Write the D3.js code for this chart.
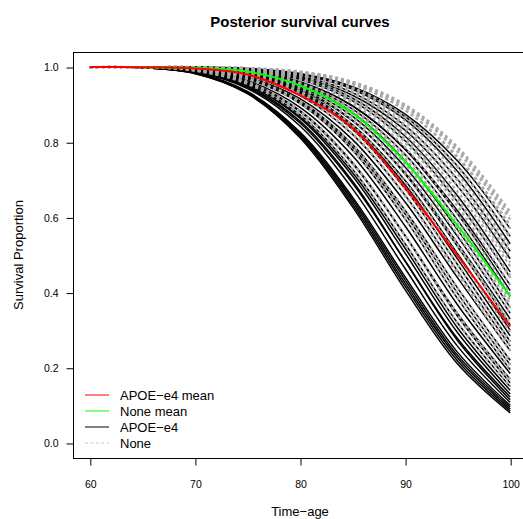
<!DOCTYPE html>
<html>
<head>
<meta charset="utf-8">
<script src="https://cdn.jsdelivr.net/npm/d3@7"></script>
<style>
  html, body { margin: 0; padding: 0; background: #fff; }
  svg { display: block; font-family: "Liberation Sans", Arial, Helvetica, sans-serif; }
</style>
</head>
<body>
<div id="chart"></div>
<script>
// ---- data ----
const ages = [60, 65, 70, 75, 80, 85, 90, 95, 100];

// posterior mean curves
const apoeMean = [1, 0.9997, 0.996, 0.980, 0.925, 0.838, 0.680, 0.498, 0.310];
const noneMean = [1, 0.9999, 0.998, 0.988, 0.951, 0.877, 0.748, 0.578, 0.390];

// posterior draws, APOE-e4 (solid black)
const apoeDraws = [
  [1, 0.9986, 0.983, 0.929, 0.812, 0.628, 0.408, 0.210, 0.080],
  [1, 0.9986, 0.983, 0.930, 0.816, 0.635, 0.417, 0.218, 0.085],
  [1, 0.9986, 0.984, 0.932, 0.820, 0.642, 0.425, 0.226, 0.090],
  [1, 0.9987, 0.984, 0.933, 0.824, 0.648, 0.434, 0.233, 0.095],
  [1, 0.9987, 0.985, 0.935, 0.827, 0.654, 0.442, 0.241, 0.100],
  [1, 0.9990, 0.987, 0.943, 0.843, 0.676, 0.464, 0.257, 0.108],
  [1, 0.9992, 0.989, 0.949, 0.856, 0.696, 0.484, 0.272, 0.115],
  [1, 0.9990, 0.988, 0.946, 0.851, 0.691, 0.484, 0.277, 0.122],
  [1, 0.9992, 0.990, 0.952, 0.864, 0.710, 0.505, 0.293, 0.130],
  [1, 0.9993, 0.990, 0.954, 0.868, 0.719, 0.518, 0.306, 0.140],
  [1, 0.9993, 0.990, 0.955, 0.873, 0.728, 0.530, 0.319, 0.150],
  [1, 0.9994, 0.992, 0.961, 0.884, 0.746, 0.551, 0.337, 0.160],
  [1, 0.9993, 0.991, 0.958, 0.881, 0.743, 0.552, 0.344, 0.170],
  [1, 0.9995, 0.992, 0.964, 0.893, 0.764, 0.577, 0.367, 0.185],
  [1, 0.9996, 0.994, 0.968, 0.903, 0.779, 0.596, 0.384, 0.195],
  [1, 0.9996, 0.994, 0.969, 0.907, 0.787, 0.609, 0.398, 0.208],
  [1, 0.9996, 0.994, 0.971, 0.910, 0.794, 0.619, 0.412, 0.220],
  [1, 0.9997, 0.995, 0.973, 0.916, 0.807, 0.641, 0.439, 0.245],
  [1, 0.9997, 0.995, 0.976, 0.924, 0.821, 0.659, 0.457, 0.258],
  [1, 0.9998, 0.996, 0.979, 0.931, 0.834, 0.676, 0.474, 0.270],
  [1, 0.9998, 0.996, 0.980, 0.934, 0.840, 0.687, 0.489, 0.285],
  [1, 0.9998, 0.996, 0.981, 0.937, 0.846, 0.698, 0.503, 0.300],
  [1, 0.9998, 0.997, 0.983, 0.943, 0.858, 0.715, 0.522, 0.315],
  [1, 0.9998, 0.997, 0.982, 0.941, 0.857, 0.718, 0.531, 0.330],
  [1, 0.9999, 0.997, 0.984, 0.947, 0.869, 0.734, 0.549, 0.345],
  [1, 0.9999, 0.998, 0.986, 0.953, 0.879, 0.750, 0.567, 0.360],
  [1, 0.9999, 0.998, 0.988, 0.956, 0.888, 0.767, 0.592, 0.390],
  [1, 0.9999, 0.998, 0.989, 0.961, 0.897, 0.781, 0.609, 0.405],
  [1, 0.9999, 0.998, 0.989, 0.960, 0.896, 0.783, 0.617, 0.420],
  [1, 1.0000, 0.999, 0.991, 0.967, 0.910, 0.804, 0.641, 0.440],
  [1, 1.0000, 0.999, 0.992, 0.970, 0.917, 0.816, 0.657, 0.455],
  [1, 1.0000, 0.999, 0.993, 0.973, 0.925, 0.832, 0.683, 0.490],
  [1, 1.0000, 0.999, 0.994, 0.976, 0.932, 0.844, 0.701, 0.510],
  [1, 1.0000, 0.999, 0.995, 0.980, 0.941, 0.860, 0.722, 0.530],
  [1, 1.0000, 0.999, 0.996, 0.981, 0.945, 0.868, 0.736, 0.550],
  [1, 1.0000, 1.000, 0.996, 0.983, 0.948, 0.875, 0.750, 0.570]
];

// posterior draws, None (grey dashed)
const noneDraws = [
  [1, 0.9993, 0.990, 0.955, 0.873, 0.728, 0.530, 0.319, 0.150],
  [1, 0.9994, 0.992, 0.961, 0.884, 0.746, 0.551, 0.337, 0.160],
  [1, 0.9993, 0.991, 0.958, 0.881, 0.743, 0.552, 0.344, 0.170],
  [1, 0.9996, 0.994, 0.968, 0.903, 0.779, 0.596, 0.384, 0.195],
  [1, 0.9996, 0.994, 0.969, 0.907, 0.787, 0.609, 0.398, 0.208],
  [1, 0.9996, 0.994, 0.971, 0.910, 0.794, 0.619, 0.412, 0.220],
  [1, 0.9998, 0.996, 0.977, 0.926, 0.823, 0.657, 0.448, 0.245],
  [1, 0.9997, 0.995, 0.976, 0.924, 0.821, 0.659, 0.457, 0.258],
  [1, 0.9998, 0.996, 0.979, 0.931, 0.834, 0.676, 0.474, 0.270],
  [1, 0.9998, 0.996, 0.980, 0.936, 0.844, 0.694, 0.498, 0.295],
  [1, 0.9998, 0.997, 0.983, 0.943, 0.858, 0.715, 0.522, 0.315],
  [1, 0.9999, 0.997, 0.985, 0.948, 0.866, 0.725, 0.531, 0.320],
  [1, 0.9999, 0.998, 0.986, 0.951, 0.874, 0.741, 0.554, 0.345],
  [1, 0.9999, 0.998, 0.988, 0.956, 0.884, 0.756, 0.571, 0.360],
  [1, 0.9999, 0.998, 0.987, 0.954, 0.882, 0.756, 0.576, 0.370],
  [1, 0.9999, 0.998, 0.988, 0.958, 0.890, 0.767, 0.588, 0.380],
  [1, 1.0000, 0.999, 0.991, 0.965, 0.903, 0.786, 0.609, 0.395],
  [1, 1.0000, 0.999, 0.991, 0.967, 0.909, 0.799, 0.629, 0.420],
  [1, 1.0000, 0.999, 0.991, 0.967, 0.910, 0.804, 0.641, 0.440],
  [1, 1.0000, 0.999, 0.992, 0.969, 0.915, 0.811, 0.649, 0.445],
  [1, 1.0000, 0.999, 0.993, 0.971, 0.920, 0.823, 0.668, 0.470],
  [1, 1.0000, 0.999, 0.994, 0.976, 0.929, 0.836, 0.683, 0.480],
  [1, 1.0000, 0.999, 0.995, 0.978, 0.935, 0.846, 0.697, 0.495],
  [1, 1.0000, 0.999, 0.994, 0.976, 0.932, 0.844, 0.701, 0.510],
  [1, 1.0000, 0.999, 0.995, 0.980, 0.940, 0.856, 0.715, 0.520],
  [1, 1.0000, 0.999, 0.996, 0.981, 0.944, 0.866, 0.733, 0.545],
  [1, 1.0000, 0.999, 0.996, 0.981, 0.945, 0.868, 0.736, 0.550],
  [1, 1.0000, 1.000, 0.997, 0.986, 0.955, 0.885, 0.758, 0.570],
  [1, 1.0000, 1.000, 0.997, 0.985, 0.954, 0.885, 0.762, 0.580],
  [1, 1.0000, 1.000, 0.997, 0.987, 0.958, 0.893, 0.774, 0.595],
  [1, 1.0000, 1.000, 0.997, 0.987, 0.959, 0.896, 0.781, 0.605],
  [1, 1.0000, 1.000, 0.997, 0.988, 0.961, 0.900, 0.787, 0.615]
];

const xTicks = [60, 70, 80, 90, 100];
const yTicks = [0, 0.2, 0.4, 0.6, 0.8, 1.0];
const legendLabels = ["APOE\u2212e4 mean", "None mean", "APOE\u2212e4", "None"];

// ---- setup ----
const width = 523, height = 519;
const plot = { left: 73, right: 527, top: 52, bottom: 458 };

const svg = d3.select("#chart").append("svg")
  .attr("width", width)
  .attr("height", height);

// R style: 4% padding on both axes
const x = d3.scaleLinear().domain([58.4, 101.6]).range([plot.left, plot.right]);
const y = d3.scaleLinear().domain([-0.04, 1.04]).range([plot.bottom, plot.top]);

const line = d3.line()
  .x((d, i) => x(ages[i]))
  .y(d => y(d))
  .curve(d3.curveCatmullRom.alpha(0.5));

const gCurves = svg.append("g");

// black solid draws first, grey dashed on top
gCurves.selectAll(".apoe")
  .data(apoeDraws)
  .join("path")
  .attr("class", "apoe")
  .attr("d", line)
  .attr("fill", "none")
  .attr("stroke", "#000")
  .attr("stroke-width", 1.5);

gCurves.selectAll(".none")
  .data(noneDraws)
  .join("path")
  .attr("class", "none")
  .attr("d", line)
  .attr("fill", "none")
  .attr("stroke", "#a9a9a9")
  .attr("stroke-width", 2.2)
  .attr("stroke-dasharray", "3,3");

gCurves.append("path")
  .attr("d", line(noneMean))
  .attr("fill", "none")
  .attr("stroke", "#00ff00")
  .attr("stroke-width", 2);

gCurves.append("path")
  .attr("d", line(apoeMean))
  .attr("fill", "none")
  .attr("stroke", "#ff0000")
  .attr("stroke-width", 2);

// box
svg.append("rect")
  .attr("x", plot.left + 0.5)
  .attr("y", plot.top + 0.5)
  .attr("width", plot.right - plot.left)
  .attr("height", plot.bottom - plot.top)
  .attr("fill", "none")
  .attr("stroke", "#000")
  .attr("stroke-width", 1);

// axes
const xAxis = svg.append("g")
  .attr("transform", `translate(0.5,${plot.bottom + 0.5})`)
  .call(d3.axisBottom(x).tickValues(xTicks).tickSize(7).tickPadding(15).tickFormat(d3.format("d")));

const yAxis = svg.append("g")
  .attr("transform", `translate(${plot.left + 0.5},0.5)`)
  .call(d3.axisLeft(y).tickValues(yTicks).tickSize(7).tickPadding(8).tickFormat(d3.format(".1f")));

[xAxis, yAxis].forEach(a => {
  a.select(".domain").remove();
  a.selectAll("text")
    .attr("fill", "#000")
    .style("font-size", "10.5px")
    .style("font-family", "'Liberation Sans', Arial, sans-serif");
});

// titles
svg.append("text")
  .attr("x", (plot.left + plot.right) / 2)
  .attr("y", 27)
  .attr("text-anchor", "middle")
  .style("font-size", "15px")
  .style("font-weight", "bold")
  .text("Posterior survival curves");

svg.append("text")
  .attr("x", (plot.left + plot.right) / 2)
  .attr("y", 516)
  .attr("text-anchor", "middle")
  .style("font-size", "13px")
  .text("Time\u2212age");

svg.append("text")
  .attr("transform", `translate(23,${(plot.top + plot.bottom) / 2}) rotate(-90)`)
  .attr("text-anchor", "middle")
  .style("font-size", "13px")
  .text("Survival Proportion");

// legend (no box)
const legendStyle = [
  { stroke: "#ff0000", dash: null },
  { stroke: "#00ff00", dash: null },
  { stroke: "#000", dash: null },
  { stroke: "#c8c8c8", dash: "3,2.5" }
];

const legend = svg.append("g").attr("transform", "translate(85,395)");
const rows = legend.selectAll("g")
  .data(legendLabels)
  .join("g")
  .attr("transform", (d, i) => `translate(0,${i * 16})`);

rows.append("line")
  .attr("x1", 0).attr("x2", 24)
  .attr("y1", 0).attr("y2", 0)
  .attr("stroke", (d, i) => legendStyle[i].stroke)
  .attr("stroke-width", 1)
  .attr("stroke-dasharray", (d, i) => legendStyle[i].dash);

rows.append("text")
  .attr("x", 35)
  .attr("y", 0)
  .attr("dy", "0.35em")
  .style("font-size", "13px")
  .text(d => d);
</script>
</body>
</html>
